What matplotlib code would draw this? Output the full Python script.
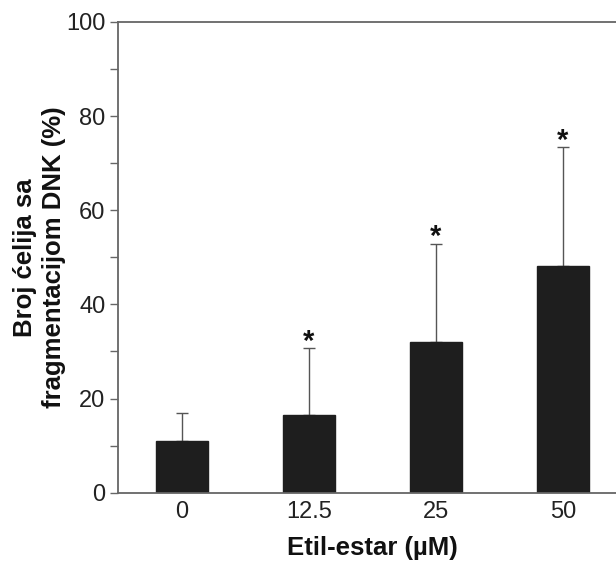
import numpy as np
import matplotlib.pyplot as plt
from matplotlib.ticker import MultipleLocator

plt.rcParams['font.family'] = ['Liberation Sans', 'DejaVu Sans']

# data
doses = ['0', '12.5', '25', '50']
values = [11.0, 16.5, 32.1, 48.1]
errors = [5.9, 14.2, 20.8, 25.3]
signif = [False, True, True, True]

fig = plt.figure(figsize=(6.16, 5.62), dpi=100)
ax = fig.add_axes([118 / 616, 69.3 / 562, (626.5 - 118) / 616, (540 - 69.3) / 562])

x = np.arange(len(doses))
spine_col = '#666666'
ax.bar(x, values, width=0.41, color='#1e1e1e', edgecolor='#1e1e1e', zorder=2)
ax.errorbar(x, values, yerr=[np.zeros(len(x)), errors], fmt='none',
            ecolor='#555555', elinewidth=1.0, capsize=4.5, capthick=1.0, zorder=1)

# asterisks just above the caps
for xi, v, e, s in zip(x, values, errors, signif):
    if s:
        ax.annotate('*', xy=(xi, v + e), xytext=(0, -1), textcoords='offset points',
                    ha='center', va='baseline', fontsize=21, fontweight='bold',
                    color='#111111')

ax.set_xlim(-0.5, 3.5)
ax.set_ylim(0, 100)
ax.set_xticks(x)
ax.set_xticklabels(doses)
ax.yaxis.set_major_locator(MultipleLocator(20))
ax.yaxis.set_minor_locator(MultipleLocator(10))
ax.tick_params(axis='x', length=0, labelsize=17, pad=6, colors='#222222')
ax.tick_params(axis='y', which='both', length=6, width=1, color=spine_col,
               labelsize=17, pad=3, labelcolor='#222222')

for side in ['left', 'top', 'bottom']:
    ax.spines[side].set_color(spine_col)
    ax.spines[side].set_linewidth(1.3)
ax.spines['right'].set_visible(False)

ax.set_xlabel('Etil-estar (µM)', fontsize=18.5, fontweight='bold', labelpad=9, color='#111111')
ax.set_ylabel('Broj ćelija sa\nfragmentacijom DNK (%)', fontsize=18.5,
              fontweight='bold', labelpad=0, color='#111111', linespacing=1.25)

fig.savefig('out.png', dpi=100)
